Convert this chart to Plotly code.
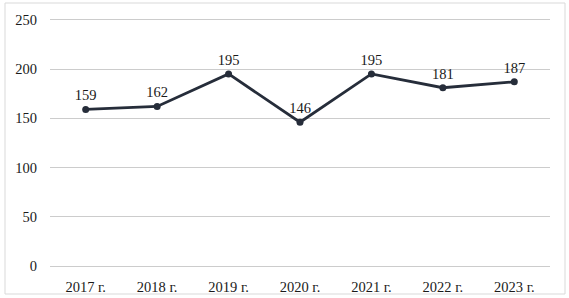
import plotly.graph_objects as go

categories = ["2017 г.", "2018 г.", "2019 г.", "2020 г.", "2021 г.", "2022 г.", "2023 г."]
values = [159, 162, 195, 146, 195, 181, 187]
y_ticks = [0, 50, 100, 150, 200, 250]

W, H = 569, 298
ml, mr, mt, mb = 50, 19, 5, 30
pw, ph = W - ml - mr, H - mt - mb

fig = go.Figure(go.Scatter(
    x=categories, y=values, mode="lines+markers+text",
    text=[str(v) for v in values], textposition="top center",
    line=dict(color="#262d3a", width=2.8),
    marker=dict(color="#262d3a", size=7),
    textfont=dict(family="Liberation Serif", size=14.5, color="#1a1a1a"),
    cliponaxis=False, hoverinfo="skip"
))

fig.update_layout(
    width=W, height=H, autosize=False,
    margin=dict(l=ml, r=mr, t=mt, b=mb, pad=0),
    paper_bgcolor="white", plot_bgcolor="white",
    font=dict(family="Liberation Serif", size=14.5, color="#1a1a1a"),
    showlegend=False,
    xaxis=dict(range=[-0.5, 6.5], showgrid=False, showline=False, zeroline=False,
               ticks="", ticklabelstandoff=8, fixedrange=True, automargin=False),
    yaxis=dict(range=[-2, 265], tickvals=y_ticks, showgrid=True,
               gridcolor="#cccccc", gridwidth=1, zeroline=False, automargin=False,
               showline=False, ticks="", ticklabelstandoff=12),
    shapes=[dict(type="rect", xref="paper", yref="paper",
                 x0=(5 - ml) / pw, x1=(565 - ml) / pw,
                 y0=(mt + ph - 294) / ph, y1=(mt + ph - 3) / ph,
                 line=dict(color="#d9d9d9", width=1), layer="below")]
)

fig.write_html("out.html", config={"displayModeBar": False},
               post_script="document.body.style.margin='0';document.body.style.overflow='hidden';")
